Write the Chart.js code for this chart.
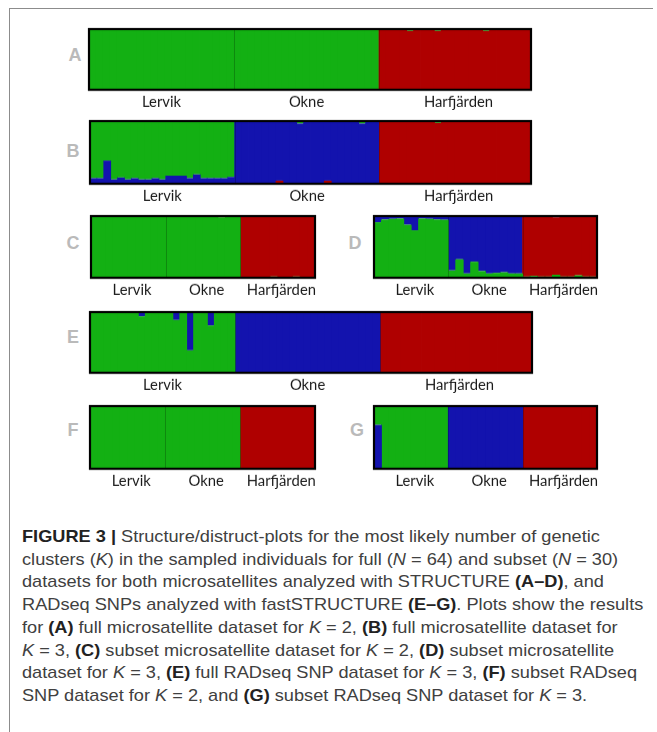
<!DOCTYPE html>
<html><head><meta charset="utf-8">
<script src="https://cdn.jsdelivr.net/npm/chart.js@4.4.1/dist/chart.umd.min.js"></script>
<style>
html,body{margin:0;padding:0;background:#fff;}
body{width:657px;height:732px;position:relative;overflow:hidden;font-family:"Liberation Sans",Arial,sans-serif;}
#frame{position:absolute;left:9px;top:8px;width:643px;height:740px;border-top:1px solid #8c8c8c;border-left:1px solid #8c8c8c;}
.plot{position:absolute;}
.letter{position:absolute;font:bold 18px "Liberation Sans",Arial,sans-serif;color:#bababa;transform:translate(-50%,-50%);}
#caption{position:absolute;left:22px;top:526px;transform-origin:0 0;color:#404040;font-size:17px;line-height:22.7px;white-space:nowrap;font-family:"Liberation Sans Narrow","Liberation Sans",Arial,sans-serif;}
#caption b{font-weight:bold;color:#222;}
</style></head>
<body>
<div id="frame"></div>
<div id="caption">
<div><span class="ln"><b>FIGURE 3 |</b> Structure/distruct-plots for the most likely number of genetic</span></div>
<div><span class="ln">clusters (<i>K</i>) in the sampled individuals for full (<i>N</i> = 64) and subset (<i>N</i> = 30)</span></div>
<div><span class="ln">datasets for both microsatellites analyzed with STRUCTURE <b>(A–D)</b>, and</span></div>
<div><span class="ln">RADseq SNPs analyzed with fastSTRUCTURE <b>(E–G)</b>. Plots show the results</span></div>
<div><span class="ln">for <b>(A)</b> full microsatellite dataset for <i>K</i> = 2, <b>(B)</b> full microsatellite dataset for</span></div>
<div><span class="ln"><i>K</i> = 3, <b>(C)</b> subset microsatellite dataset for <i>K</i> = 2, <b>(D)</b> subset microsatellite</span></div>
<div><span class="ln" id="widest">dataset for <i>K</i> = 3, <b>(E)</b> full RADseq SNP dataset for <i>K</i> = 3, <b>(F)</b> subset RADseq</span></div>
<div><span class="ln">SNP dataset for <i>K</i> = 2, and <b>(G)</b> subset RADseq SNP dataset for <i>K</i> = 3.</span></div>
</div>
<script>
// ---------- DATA ----------
const POPS = ['Lervik', 'Okne', 'Harfjärden'];
const FULL_SIZES = [21, 21, 22];   // N = 64
const SUBSET_SIZES = [10, 10, 10]; // N = 30

// (A) full microsatellites, K = 2
const A_red = [
 0,0,0,0,0,0,0,0,0,0,0,0,0,0,0,0,0,0,0,0,0,
 0,0,0,0,0,0,0,0,0,0,0,0,0,0,0,0,0,0,0,0,0,
 0.99,0.99,0.99,0.99,0.97,0.99,0.99,0.99,0.97,0.99,0.99,0.99,0.99,0.99,0.99,0.97,1,1,1,1,1,1];
const A_green = [
 1,1,1,1,1,1,1,1,1,1,1,1,1,1,1,1,1,1,1,1,1,
 1,1,1,1,1,1,1,1,1,1,1,1,1,1,1,1,1,1,1,1,1,
 0.01,0.01,0.01,0.01,0.03,0.01,0.01,0.01,0.03,0.01,0.01,0.01,0.01,0.01,0.01,0.03,0,0,0,0,0,0];

// (B) full microsatellites, K = 3
const B_red = [
 0,0,0,0,0,0,0,0,0,0,0,0,0,0,0,0,0,0,0,0,0,
 0,0,0,0,0,0,0.05,0,0,0,0,0,0,0.05,0,0,0,0,0,0,0,
 0.99,0.99,0.99,0.99,0.99,0.99,0.99,0.99,0.97,0.99,0.99,0.99,0.99,0.99,0.99,0.99,1,1,1,1,1,1];
const B_blue = [
 0.09,0.09,0.37,0.07,0.10,0.07,0.09,0.07,0.07,0.09,0.07,0.13,0.13,0.13,0.09,0.15,0.09,0.09,0.09,0.09,0.11,
 0.99,1,0.99,0.99,0.99,0.99,0.94,0.99,0.99,0.96,0.99,0.99,0.99,0.94,0.99,0.99,0.99,0.99,0.96,0.99,0.99,
 0,0,0,0,0,0,0,0,0,0,0,0,0,0,0,0,0,0,0,0,0,0];
const B_green = [
 0.91,0.91,0.63,0.93,0.90,0.93,0.91,0.93,0.93,0.91,0.93,0.87,0.87,0.87,0.91,0.85,0.91,0.91,0.91,0.91,0.89,
 0.01,0,0.01,0.01,0.01,0.01,0.01,0.01,0.01,0.04,0.01,0.01,0.01,0.01,0.01,0.01,0.01,0.01,0.04,0.01,0.01,
 0.01,0.01,0.01,0.01,0.01,0.01,0.01,0.01,0.03,0.01,0.01,0.01,0.01,0.01,0.01,0.01,0,0,0,0,0,0];

// (C) subset microsatellites, K = 2
const C_green = [1,1,1,1,1,1,1,1,1,1, 1,1,1,1,1,1,1,0.98,1,1, 0,0.01,0,0,0.02,0,0,0.02,0,0];
const C_red   = [0,0,0,0,0,0,0,0,0,0, 0,0,0,0,0,0,0,0.02,0,0, 1,0.99,1,1,0.98,1,1,0.98,1,1];

// (D) subset microsatellites, K = 3
const D_green = [0.90,0.945,0.955,0.96,0.86,0.77,0.96,0.955,0.945,0.94,
 0.12,0.30,0.07,0.26,0.11,0.07,0.08,0.09,0.07,0.07,
 0.02,0.03,0.02,0.02,0.05,0.02,0.02,0.04,0.02,0.02];
const D_red = [0,0,0,0,0,0,0,0,0,0, 0,0,0,0,0,0,0,0,0,0,
 0.98,0.97,0.98,0.98,0.93,0.98,0.98,0.96,0.98,0.98];
const D_blue = [0.10,0.055,0.045,0.04,0.14,0.23,0.04,0.045,0.055,0.06,
 0.88,0.70,0.93,0.74,0.89,0.93,0.92,0.91,0.93,0.93,
 0,0,0,0,0.02,0,0,0,0,0];

// (E) full RADseq SNPs, K = 3
const E_green = [
 1,1,1,1,1,1,1,0.93,1,1,1,1,0.87,1,0.37,1,1,0.78,1,1,1,
 0,0,0,0,0,0,0,0,0,0,0,0,0,0,0,0,0,0,0,0,0,
 0,0,0,0,0,0,0,0,0,0,0,0,0,0,0,0,0,0,0,0,0,0];
const E_blue = [
 0,0,0,0,0,0,0,0.07,0,0,0,0,0.13,0,0.63,0,0,0.22,0,0,0,
 1,1,1,1,1,1,1,1,1,1,1,1,1,1,1,1,1,1,1,1,1,
 0,0,0,0,0,0,0,0,0,0,0,0,0,0,0,0,0,0,0,0,0,0];
const E_red = [
 0,0,0,0,0,0,0,0,0,0,0,0,0,0,0,0,0,0,0,0,0,
 0,0,0,0,0,0,0,0,0,0,0,0,0,0,0,0,0,0,0,0,0,
 1,1,1,1,1,1,1,1,1,1,1,1,1,1,1,1,1,1,1,1,1,1];

// (F) subset RADseq SNPs, K = 2
const F_green = [1,1,1,1,1,1,1,1,1,1, 1,1,1,1,1,1,1,1,1,1, 0,0,0,0,0,0,0,0,0,0];
const F_red   = [0,0,0,0,0,0,0,0,0,0, 0,0,0,0,0,0,0,0,0,0, 1,1,1,1,1,1,1,1,1,1];

// (G) subset RADseq SNPs, K = 3
const G_blue  = [0.70,0,0,0,0,0,0,0,0,0, 1,1,1,1,1,1,1,1,1,1, 0,0,0,0,0,0,0,0,0,0];
const G_green = [0.30,1,1,1,1,1,1,1,1,1, 0,0,0,0,0,0,0,0,0,0, 0,0,0,0,0,0,0,0,0,0];
const G_red   = [0,0,0,0,0,0,0,0,0,0, 0,0,0,0,0,0,0,0,0,0, 1,1,1,1,1,1,1,1,1,1];

// ---------- STYLE / LAYOUT ----------
const GREEN = '#13b013', BLUE = '#1313ae', RED = '#af0000';

const PANELS = [
 {id:'A', l:89,  t:29,  r:531, b:89,  sizes:FULL_SIZES,   series:[[A_red,RED],[A_green,GREEN]], lx:75, ly:55},
 {id:'B', l:90,  t:121, r:531, b:183, sizes:FULL_SIZES,   series:[[B_red,RED],[B_blue,BLUE],[B_green,GREEN]], lx:73, ly:151},
 {id:'C', l:91,  t:216, r:315, b:277, sizes:SUBSET_SIZES, series:[[C_green,GREEN],[C_red,RED]], lx:73, ly:243},
 {id:'D', l:374, t:216, r:597, b:277, sizes:SUBSET_SIZES, series:[[D_green,GREEN],[D_red,RED],[D_blue,BLUE]], lx:355, ly:243},
 {id:'E', l:90,  t:312, r:532, b:372, sizes:FULL_SIZES,   series:[[E_green,GREEN],[E_blue,BLUE],[E_red,RED]], lx:73, ly:337},
 {id:'F', l:90,  t:406, r:315, b:468, sizes:SUBSET_SIZES, series:[[F_green,GREEN],[F_red,RED]], lx:73, ly:430},
 {id:'G', l:374, t:406, r:597, b:468, sizes:SUBSET_SIZES, series:[[G_blue,BLUE],[G_green,GREEN],[G_red,RED]], lx:357, ly:430},
];

const PAD = 3, TICK_PAD = 3, FONT = 14.8;
const AXIS_H = FONT * 1.2 + TICK_PAD * 2;

const framePlugin = {
  id: 'frame',
  afterDatasetsDraw(chart, args, opts) {
    const {ctx, chartArea: a, scales: {x}} = chart;
    ctx.save();
    // population separators
    ctx.strokeStyle = 'rgba(0,0,0,0.22)';
    ctx.lineWidth = 1;
    let acc = 0;
    opts.sizes.slice(0, -1).forEach(n => {
      acc += n;
      const px = Math.round((x.getPixelForValue(acc - 1) + x.getPixelForValue(acc)) / 2) + 0.5;
      ctx.beginPath(); ctx.moveTo(px, a.top); ctx.lineTo(px, a.bottom); ctx.stroke();
    });
    ctx.strokeStyle = '#000';
    ctx.lineWidth = 2.2;
    ctx.strokeRect(a.left, a.top, a.right - a.left, a.bottom - a.top);
    ctx.restore();
  }
};

PANELS.forEach(p => {
  const div = document.createElement('div');
  div.className = 'plot';
  div.style.left = (p.l - PAD) + 'px';
  div.style.top = (p.t - PAD) + 'px';
  div.style.width = (p.r - p.l + 2 * PAD) + 'px';
  div.style.height = (p.b - p.t + PAD + AXIS_H) + 'px';
  const cv = document.createElement('canvas');
  div.appendChild(cv);
  document.body.appendChild(div);

  const lab = document.createElement('div');
  lab.className = 'letter';
  lab.textContent = p.id;
  lab.style.left = p.lx + 'px';
  lab.style.top = p.ly + 'px';
  document.body.appendChild(lab);

  const labels = p.series[0][0].map((_, i) => String(i + 1));
  const mid = {};
  let s = 0;
  p.sizes.forEach((k, gi) => { mid[s + Math.floor(k / 2)] = POPS[gi]; s += k; });

  new Chart(cv, {
    type: 'bar',
    data: {
      labels,
      datasets: p.series.map(([vals, col]) => ({
        data: vals, backgroundColor: col, borderWidth: 0,
        barPercentage: 1.12, categoryPercentage: 1, inflateAmount: 0
      }))
    },
    options: {
      responsive: true, maintainAspectRatio: false, animation: false,
      devicePixelRatio: 1,
      layout: {padding: {left: PAD, right: PAD, top: PAD, bottom: 0}},
      plugins: {legend: {display: false}, tooltip: {enabled: false}, frame: {sizes: p.sizes}},
      scales: {
        x: {
          stacked: true,
          grid: {display: false, drawTicks: false},
          border: {display: false},
          ticks: {
            autoSkip: false, maxRotation: 0, minRotation: 0, padding: TICK_PAD,
            color: '#1a1a1a',
            font: {family: 'Lato, "Open Sans", sans-serif', size: FONT},
            callback: (v, i) => mid[i] || ''
          }
        },
        y: {stacked: true, display: false, min: 0, max: 1}
      }
    },
    plugins: [framePlugin]
  });
});

// fit caption width to the reference line lengths
const w = document.getElementById('widest').getBoundingClientRect().width;
document.getElementById('caption').style.transform = 'scaleX(' + (615 / w) + ')';
</script>
</body></html>
